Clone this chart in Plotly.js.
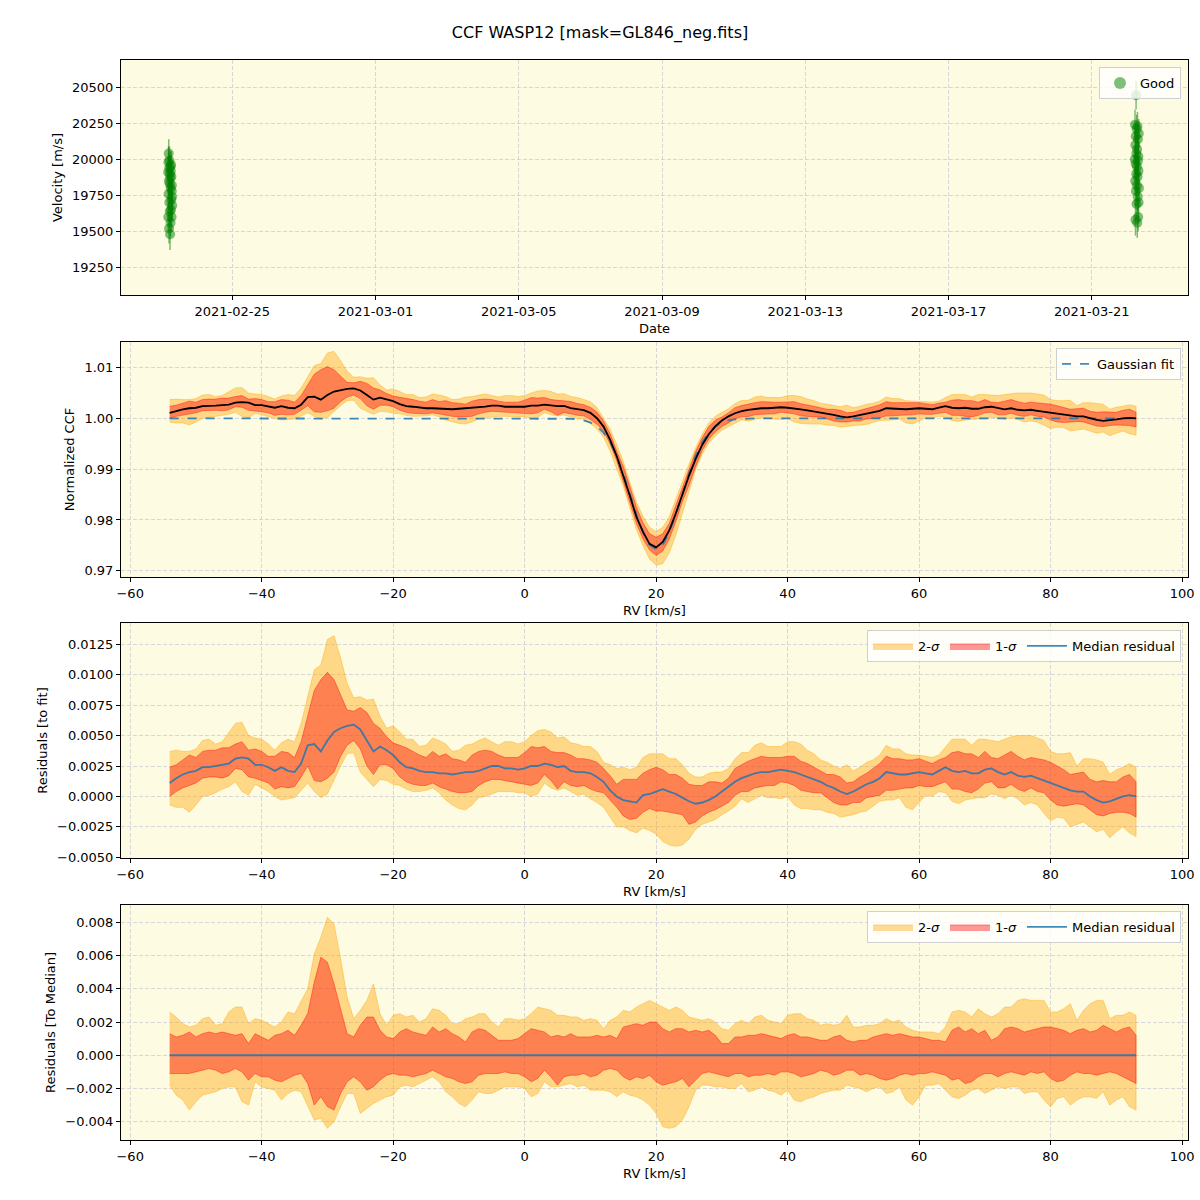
<!DOCTYPE html>
<html>
<head>
<meta charset="utf-8">
<script src="https://cdn.plot.ly/plotly-3.0.1.min.js"></script>
<style>body{margin:0;padding:0;background:#fff;}#chart{width:1200px;height:1200px;}</style>
</head>
<body>
<div id="chart"></div>
<script>
// ---------- Panel 1: RV time series ----------
const goodDates = [
 '2021-02-23 05:00','2021-02-23 05:06','2021-02-23 05:12','2021-02-23 05:18','2021-02-23 05:24','2021-02-23 05:30','2021-02-23 05:36',
 '2021-02-23 05:42','2021-02-23 05:48','2021-02-23 05:54','2021-02-23 06:00','2021-02-23 06:06','2021-02-23 06:12','2021-02-23 06:18',
 '2021-02-23 06:24','2021-02-23 06:30','2021-02-23 06:36','2021-02-23 06:42','2021-02-23 06:48','2021-02-23 06:54','2021-02-23 07:00',
 '2021-02-23 07:06','2021-02-23 07:12','2021-02-23 07:18','2021-02-23 07:24','2021-02-23 07:30','2021-02-23 07:36','2021-02-23 07:42',
 '2021-03-22 04:56','2021-03-22 05:02','2021-03-22 05:08','2021-03-22 05:14','2021-03-22 05:20','2021-03-22 05:26','2021-03-22 05:32',
 '2021-03-22 05:38','2021-03-22 05:44','2021-03-22 05:50','2021-03-22 05:56','2021-03-22 06:02','2021-03-22 06:08','2021-03-22 06:14',
 '2021-03-22 06:20','2021-03-22 06:26','2021-03-22 06:32','2021-03-22 06:38','2021-03-22 06:44','2021-03-22 06:50','2021-03-22 06:56',
 '2021-03-22 07:02','2021-03-22 07:08','2021-03-22 07:14','2021-03-22 07:20','2021-03-22 07:26','2021-03-22 07:32','2021-03-22 07:38'
];
const goodRV = [
 19910,19600,19980,19760,20040,19850,19520,19940,19700,19990,19830,19640,19900,19480,
 19870,19950,19560,19800,19920,19650,19960,19720,19880,19600,19780,19820,19740,19680,
 20000,20240,19850,20100,19580,19970,20160,19780,20446,19900,20040,19690,20210,19820,
 19950,20070,19560,20230,19880,19740,20140,19990,19600,20020,19920,19700,20180,19800
];
const goodErr = [
 105,100,110,110,100,95,105,100,110,100,105,95,100,110,
 100,105,95,100,110,115,100,105,95,100,110,100,105,100,
 100,105,95,100,110,100,95,105,100,100,95,105,100,110,
 100,95,105,100,110,100,95,105,100,110,100,105,100,95
];

// ---------- Panels 2-4: CCF ----------
const rv = [-54,-53,-52,-51,-50,-49,-48,-47,-46,-45,-44,-43,-42,-41,-40,-39,-38,-37,-36,-35,
 -34,-33,-32,-31,-30,-29,-28,-27,-26,-25,-24,-23,-22,-21,-20,-19,-18,-17,-16,-15,
 -14,-13,-12,-11,-10,-9,-8,-7,-6,-5,-4,-3,-2,-1,0,1,2,3,4,5,
 6,7,8,9,10,11,12,13,14,15,16,17,18,19,20,21,22,23,24,25,
 26,27,28,29,30,31,32,33,34,35,36,37,38,39,40,41,42,43,44,45,
 46,47,48,49,50,51,52,53,54,55,56,57,58,59,60,61,62,63,64,65,
 66,67,68,69,70,71,72,73,74,75,76,77,78,79,80,81,82,83,84,85,
 86,87,88,89,90,91,92,93];

// Gaussian fit of the CCF
const fitCCF = [
 1,1,1,1,1,1,1,1,1,1, 1,1,1,1,1,1,1,1,1,1,
 1,1,1,1,1,1,1,1,1,1, 1,1,1,1,1,1,1,1,1,1,
 1,1,1,1,1,1,1,1,1,1, 1,1,1,1,1,1,1,1,1,1,
 0.99997,0.99993,0.99982,0.99961,0.99919,0.99844,0.99719,0.99527,0.99258,0.98914,
 0.98517,0.98111,0.97754,0.97508,0.97420,0.97508,0.97754,0.98111,0.98517,0.98914,
 0.99258,0.99527,0.99719,0.99844,0.99919,0.99961,0.99982,0.99993,0.99997,
 1,1,1,1,1,1,1,1,1,1, 1,1,1,1,1,1,1,1,1,1,
 1,1,1,1,1,1,1,1,1,1, 1,1,1,1,1,1,1,1,1,1,
 1,1,1,1,1,1,1,1,1,1, 1,1,1,1,1,1,1,1,1
];

// Median residual to the fit
const medRes = [
 0.0011,0.0015,0.0018,0.0020,0.0021,0.0024,0.0024,0.0025,0.0026,0.0027,
 0.0031,0.0032,0.0031,0.0026,0.0026,0.0024,0.0021,0.0024,0.0021,0.0020,
 0.0027,0.0042,0.0043,0.0037,0.0046,0.0053,0.0056,0.0058,0.0059,0.0055,
 0.0046,0.0037,0.0041,0.0038,0.0034,0.0028,0.0024,0.0023,0.0021,0.0020,
 0.0020,0.0019,0.0019,0.0018,0.0019,0.0020,0.0020,0.0021,0.0023,0.0025,
 0.0025,0.0023,0.0023,0.0022,0.0023,0.0025,0.0025,0.0027,0.0026,0.0024,
 0.0025,0.0021,0.0020,0.0020,0.0019,0.0016,0.0012,0.0005,0.0000,-0.0003,
 -0.0004,-0.0005,0.0001,0.0002,0.0004,0.0006,0.0004,0.0002,-0.0001,-0.0004,
 -0.0006,-0.0005,-0.0003,0.0000,0.0004,0.0008,0.0012,0.0015,0.0017,0.0019,
 0.0020,0.0020,0.0021,0.0022,0.0021,0.0020,0.0018,0.0016,0.0014,0.0012,
 0.0009,0.0007,0.0004,0.0002,0.0004,0.0007,0.0010,0.0012,0.0015,0.0020,
 0.0019,0.0018,0.0018,0.0019,0.0020,0.0019,0.0018,0.0021,0.0024,0.0021,
 0.0020,0.0021,0.0019,0.0019,0.0022,0.0023,0.0020,0.0018,0.0020,0.0017,
 0.0016,0.0017,0.0015,0.0013,0.0011,0.0009,0.0007,0.0005,0.0004,0.0004,
 0.0000,-0.0003,-0.0005,-0.0004,-0.0002,0.0000,0.0001,0.0000
];

// Percentile offsets relative to the median (2-sigma and 1-sigma, upper / lower)
const up2 = [
 0.0026,0.0023,0.0019,0.0017,0.0018,0.0022,0.0023,0.0018,0.0019,0.0026,
 0.0029,0.0029,0.0019,0.0022,0.0021,0.0019,0.0017,0.0020,0.0026,0.0025,
 0.0033,0.0040,0.0061,0.0071,0.0083,0.0079,0.0058,0.0035,0.0022,0.0027,
 0.0033,0.0043,0.0025,0.0018,0.0024,0.0025,0.0023,0.0024,0.0020,0.0022,
 0.0028,0.0027,0.0024,0.0019,0.0019,0.0022,0.0023,0.0025,0.0025,0.0020,
 0.0017,0.0022,0.0022,0.0021,0.0022,0.0025,0.0029,0.0028,0.0027,0.0024,
 0.0024,0.0023,0.0023,0.0021,0.0022,0.0021,0.0016,0.0021,0.0023,0.0027,
 0.0026,0.0029,0.0031,0.0033,0.0031,0.0029,0.0027,0.0029,0.0027,0.0023,
 0.0022,0.0021,0.0022,0.0020,0.0016,0.0015,0.0019,0.0021,0.0019,0.0023,
 0.0024,0.0021,0.0020,0.0019,0.0024,0.0025,0.0025,0.0022,0.0021,0.0018,
 0.0019,0.0018,0.0019,0.0024,0.0017,0.0017,0.0018,0.0018,0.0019,0.0022,
 0.0020,0.0021,0.0017,0.0015,0.0014,0.0014,0.0014,0.0013,0.0017,0.0026,
 0.0027,0.0026,0.0023,0.0028,0.0025,0.0023,0.0025,0.0029,0.0029,0.0033,
 0.0034,0.0033,0.0033,0.0033,0.0026,0.0026,0.0028,0.0031,0.0021,0.0027,
 0.0031,0.0033,0.0033,0.0022,0.0024,0.0024,0.0026,0.0024
];
const up1 = [
 0.0013,0.0011,0.0012,0.0014,0.0011,0.0013,0.0014,0.0013,0.0014,0.0013,
 0.0012,0.0013,0.0007,0.0013,0.0011,0.0009,0.0012,0.0013,0.0015,0.0012,
 0.0018,0.0025,0.0044,0.0059,0.0056,0.0043,0.0028,0.0013,0.0011,0.0018,
 0.0023,0.0023,0.0015,0.0011,0.0010,0.0014,0.0016,0.0014,0.0013,0.0012,
 0.0017,0.0014,0.0016,0.0013,0.0011,0.0008,0.0014,0.0016,0.0015,0.0012,
 0.0009,0.0009,0.0009,0.0010,0.0013,0.0016,0.0015,0.0014,0.0011,0.0012,
 0.0011,0.0013,0.0011,0.0011,0.0011,0.0012,0.0011,0.0012,0.0010,0.0017,
 0.0018,0.0019,0.0018,0.0020,0.0020,0.0016,0.0014,0.0016,0.0016,0.0014,
 0.0015,0.0014,0.0015,0.0012,0.0007,0.0007,0.0011,0.0011,0.0012,0.0012,
 0.0013,0.0012,0.0011,0.0010,0.0012,0.0013,0.0011,0.0011,0.0010,0.0009,
 0.0009,0.0011,0.0012,0.0009,0.0008,0.0009,0.0009,0.0011,0.0012,0.0013,
 0.0012,0.0013,0.0012,0.0011,0.0011,0.0010,0.0009,0.0009,0.0008,0.0015,
 0.0017,0.0014,0.0016,0.0013,0.0015,0.0009,0.0011,0.0016,0.0017,0.0016,
 0.0014,0.0015,0.0016,0.0017,0.0017,0.0016,0.0015,0.0013,0.0015,0.0016,
 0.0014,0.0015,0.0018,0.0016,0.0014,0.0016,0.0017,0.0012
];
const dn1 = [
 -0.0011,-0.0011,-0.0011,-0.0011,-0.0010,-0.0009,-0.0008,-0.0009,-0.0011,-0.0010,
 -0.0008,-0.0010,-0.0015,-0.0011,-0.0013,-0.0013,-0.0015,-0.0016,-0.0014,-0.0012,
 -0.0011,-0.0017,-0.0030,-0.0025,-0.0031,-0.0033,-0.0023,-0.0016,-0.0013,-0.0016,
 -0.0021,-0.0019,-0.0015,-0.0012,-0.0011,-0.0012,-0.0012,-0.0013,-0.0012,-0.0011,
 -0.0009,-0.0011,-0.0013,-0.0014,-0.0016,-0.0017,-0.0016,-0.0012,-0.0011,-0.0011,
 -0.0011,-0.0010,-0.0011,-0.0011,-0.0013,-0.0016,-0.0014,-0.0009,-0.0013,-0.0018,
 -0.0013,-0.0012,-0.0012,-0.0011,-0.0013,-0.0012,-0.0009,-0.0008,-0.0009,-0.0013,
 -0.0015,-0.0013,-0.0014,-0.0012,-0.0016,-0.0018,-0.0017,-0.0016,-0.0014,-0.0019,
 -0.0015,-0.0011,-0.0010,-0.0011,-0.0012,-0.0013,-0.0011,-0.0011,-0.0013,-0.0012,
 -0.0012,-0.0011,-0.0012,-0.0010,-0.0010,-0.0011,-0.0013,-0.0012,-0.0011,-0.0009,
 -0.0010,-0.0012,-0.0011,-0.0009,-0.0009,-0.0012,-0.0011,-0.0012,-0.0014,-0.0015,
 -0.0014,-0.0012,-0.0011,-0.0012,-0.0011,-0.0011,-0.0010,-0.0011,-0.0012,-0.0015,
 -0.0014,-0.0017,-0.0016,-0.0013,-0.0011,-0.0011,-0.0013,-0.0011,-0.0010,-0.0011,
 -0.0012,-0.0010,-0.0011,-0.0010,-0.0014,-0.0016,-0.0015,-0.0012,-0.0010,-0.0011,
 -0.0011,-0.0012,-0.0011,-0.0010,-0.0011,-0.0013,-0.0015,-0.0017
];
const dn2 = [
 -0.0018,-0.0024,-0.0027,-0.0033,-0.0028,-0.0024,-0.0023,-0.0022,-0.0020,-0.0019,
 -0.0019,-0.0028,-0.0030,-0.0016,-0.0019,-0.0020,-0.0021,-0.0027,-0.0023,-0.0021,
 -0.0022,-0.0031,-0.0039,-0.0038,-0.0044,-0.0040,-0.0031,-0.0023,-0.0023,-0.0035,
 -0.0032,-0.0029,-0.0027,-0.0025,-0.0024,-0.0019,-0.0018,-0.0019,-0.0017,-0.0015,
 -0.0013,-0.0016,-0.0022,-0.0025,-0.0029,-0.0031,-0.0027,-0.0022,-0.0023,-0.0023,
 -0.0021,-0.0019,-0.0019,-0.0019,-0.0020,-0.0025,-0.0023,-0.0016,-0.0019,-0.0019,
 -0.0018,-0.0017,-0.0019,-0.0018,-0.0021,-0.0021,-0.0021,-0.0022,-0.0025,-0.0022,
 -0.0024,-0.0025,-0.0027,-0.0030,-0.0035,-0.0043,-0.0044,-0.0043,-0.0039,-0.0031,
 -0.0021,-0.0018,-0.0018,-0.0019,-0.0019,-0.0020,-0.0020,-0.0017,-0.0022,-0.0021,
 -0.0019,-0.0021,-0.0022,-0.0024,-0.0021,-0.0027,-0.0028,-0.0026,-0.0025,-0.0023,
 -0.0022,-0.0021,-0.0021,-0.0018,-0.0019,-0.0020,-0.0022,-0.0020,-0.0019,-0.0023,
 -0.0022,-0.0019,-0.0027,-0.0030,-0.0025,-0.0018,-0.0018,-0.0017,-0.0021,-0.0025,
 -0.0026,-0.0024,-0.0021,-0.0020,-0.0023,-0.0021,-0.0019,-0.0020,-0.0019,-0.0019,
 -0.0023,-0.0022,-0.0022,-0.0027,-0.0031,-0.0026,-0.0025,-0.0030,-0.0027,-0.0025,
 -0.0025,-0.0026,-0.0022,-0.0030,-0.0027,-0.0025,-0.0031,-0.0033
];

// ---------- derived series ----------
const add = (a, b) => a.map((v, i) => v + b[i]);
const res_hi2 = add(medRes, up2), res_lo2 = add(medRes, dn2);
const res_hi1 = add(medRes, up1), res_lo1 = add(medRes, dn1);
const ccfMed = add(fitCCF, medRes);
const ccf_hi2 = add(fitCCF, res_hi2), ccf_lo2 = add(fitCCF, res_lo2);
const ccf_hi1 = add(fitCCF, res_hi1), ccf_lo1 = add(fitCCF, res_lo1);
const zeros = medRes.map(v => v - v);

const C2 = 'rgba(255,165,0,0.4)';
const C1 = 'rgba(255,0,0,0.4)';
const BLUE = 'rgba(31,119,180,0.85)';

function band(lo, hi, color, name, xa, ya, legend, show) {
  return {
    type: 'scatter', mode: 'lines', name: name,
    x: rv.concat(rv.slice().reverse()),
    y: hi.concat(lo.slice().reverse()),
    fill: 'toself', fillcolor: color,
    line: {color: color, width: 1},
    xaxis: xa, yaxis: ya, legend: legend, showlegend: show, hoverinfo: 'skip'
  };
}

const traces = [
  {type: 'scatter', mode: 'markers', name: 'Good', x: goodDates, y: goodRV,
   error_y: {type: 'data', array: goodErr, visible: true, color: 'rgba(0,128,0,0.5)', thickness: 1.5, width: 0},
   marker: {color: 'rgba(0,128,0,0.5)', size: 10, line: {width: 0}},
   xaxis: 'x', yaxis: 'y', legend: 'legend', showlegend: true},

  band(ccf_lo2, ccf_hi2, C2, '2-σ', 'x2', 'y2', 'legend2', false),
  band(ccf_lo1, ccf_hi1, C1, '1-σ', 'x2', 'y2', 'legend2', false),
  {type: 'scatter', mode: 'lines', name: 'Gaussian fit', x: rv, y: fitCCF,
   line: {color: BLUE, width: 1.8, dash: 'dash'}, xaxis: 'x2', yaxis: 'y2', legend: 'legend2', showlegend: true},
  {type: 'scatter', mode: 'lines', name: 'median', x: rv, y: ccfMed,
   line: {color: 'black', width: 1.8}, xaxis: 'x2', yaxis: 'y2', legend: 'legend2', showlegend: false},

  band(res_lo2, res_hi2, C2, '2-<i>σ</i>', 'x3', 'y3', 'legend3', true),
  band(res_lo1, res_hi1, C1, '1-<i>σ</i>', 'x3', 'y3', 'legend3', true),
  {type: 'scatter', mode: 'lines', name: 'Median residual', x: rv, y: medRes,
   line: {color: BLUE, width: 1.8}, xaxis: 'x3', yaxis: 'y3', legend: 'legend3', showlegend: true},

  band(dn2, up2, C2, '2-<i>σ</i>', 'x4', 'y4', 'legend4', true),
  band(dn1, up1, C1, '1-<i>σ</i>', 'x4', 'y4', 'legend4', true),
  {type: 'scatter', mode: 'lines', name: 'Median residual', x: rv, y: zeros,
   line: {color: BLUE, width: 1.8}, xaxis: 'x4', yaxis: 'y4', legend: 'legend4', showlegend: true}
];

const FONT = 'DejaVu Sans, sans-serif';
const common = {
  showline: true, mirror: true, linecolor: 'black', linewidth: 1,
  ticks: 'outside', ticklen: 4, tickwidth: 1, tickcolor: 'black',
  showgrid: true, gridcolor: '#cdcdd6', griddash: '4px,2px', gridwidth: 0.8,
  zeroline: false, tickfont: {size: 13, color: 'black', family: FONT}
};
const xdom = [121/1200, 1188/1200];
function ax(extra) { return Object.assign({}, common, extra); }
const ttl = (t) => ({text: t, font: {size: 13, color: 'black', family: FONT}, standoff: 6});

const legendBase = {
  bgcolor: 'rgba(255,255,255,0.8)', bordercolor: '#d0d0d0', borderwidth: 1,
  font: {size: 13, color: 'black', family: FONT}, xanchor: 'right', yanchor: 'top', x: 1181/1200
};

const layout = {
  width: 1200, height: 1200,
  margin: {l: 0, r: 0, t: 0, b: 0},
  paper_bgcolor: 'white', plot_bgcolor: '#fdfbe1',
  font: {family: FONT, color: 'black'},
  title: {text: 'CCF WASP12 [mask=GL846_neg.fits]', x: 0.5, xanchor: 'center', y: 1 - 32/1200, yanchor: 'middle',
          font: {size: 16, color: 'black', family: FONT}},
  xaxis: ax({domain: xdom, anchor: 'y', type: 'date', range: ['2021-02-21 21:24', '2021-03-23 16:32'],
             tick0: '2021-02-25', dtick: 4*86400000, tickformat: '%Y-%m-%d', title: ttl('Date')}),
  yaxis: ax({domain: [1 - 295/1200, 1 - 60/1200], anchor: 'x', range: [19058, 20690],
             tick0: 19250, dtick: 250, tickformat: 'd', title: ttl('Velocity [m/s]')}),
  xaxis2: ax({domain: xdom, anchor: 'y2', range: [-61.4, 100.9], tick0: 0, dtick: 20, title: ttl('RV [km/s]')}),
  yaxis2: ax({domain: [1 - 577/1200, 1 - 342/1200], anchor: 'x2', range: [0.96876, 1.01505],
              tick0: 0.97, dtick: 0.01, tickformat: '.2f', title: ttl('Normalized CCF')}),
  xaxis3: ax({domain: xdom, anchor: 'y3', range: [-61.4, 100.9], tick0: 0, dtick: 20, title: ttl('RV [km/s]')}),
  yaxis3: ax({domain: [1 - 858/1200, 1 - 623/1200], anchor: 'x3', range: [-0.00506, 0.01425],
              tick0: 0, dtick: 0.0025, tickformat: '.4f', title: ttl('Residuals [to fit]')}),
  xaxis4: ax({domain: xdom, anchor: 'y4', range: [-61.4, 100.9], tick0: 0, dtick: 20, title: ttl('RV [km/s]')}),
  yaxis4: ax({domain: [1 - 1140/1200, 1 - 905/1200], anchor: 'x4', range: [-0.0051, 0.00904],
              tick0: 0, dtick: 0.002, tickformat: '.3f', title: ttl('Residuals [To Median]')}),
  legend: Object.assign({}, legendBase, {y: 1 - 67/1200, itemsizing: 'constant'}),
  legend2: Object.assign({}, legendBase, {y: 1 - 348/1200}),
  legend3: Object.assign({}, legendBase, {y: 1 - 630/1200, orientation: 'h', itemwidth: 40}),
  legend4: Object.assign({}, legendBase, {y: 1 - 911/1200, orientation: 'h', itemwidth: 40}),
  showlegend: true
};

Plotly.newPlot('chart', traces, layout, {displayModeBar: false, staticPlot: true});
</script>
</body>
</html>
